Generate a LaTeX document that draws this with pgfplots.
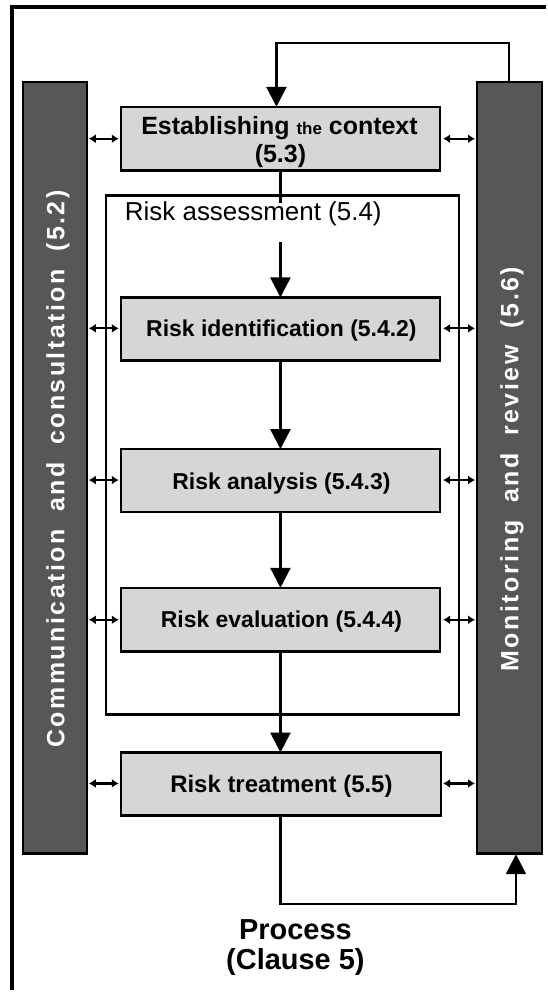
\documentclass[border=0pt]{standalone}
\usepackage{pgfplots}
\pgfplotsset{compat=1.18}
\usetikzlibrary{arrows.meta}
\usepackage{fontspec}
\setmainfont{Liberation Sans}
\newfontfamily\spaced[LetterSpace=10]{Liberation Sans}
\definecolor{barfill}{HTML}{575757}
\definecolor{boxfill}{HTML}{D6D6D6}
\begin{document}
\begin{tikzpicture}
\begin{axis}[width=547bp,height=992bp,scale only axis,
  xmin=0,xmax=547,ymin=0,ymax=992,y dir=reverse,hide axis,clip=false]
\path (rel axis cs:0,0) rectangle (rel axis cs:1,1);
% outer frame (left and top visible)
\draw[line width=4bp] (axis cs:12,992) -- (axis cs:12,7) -- (axis cs:547,7);
% side bars
\draw[line width=2.5bp,fill=barfill] (axis cs:23,82) rectangle (axis cs:87,855);
\draw[line width=2.5bp,fill=barfill] (axis cs:478,82) rectangle (axis cs:543,855);
% risk assessment frame
\draw[line width=2.5bp] (axis cs:106,196) rectangle (axis cs:460,716);
% process boxes
\draw[line width=2.5bp,fill=boxfill] (axis cs:121,107) rectangle (axis cs:441,171);
\draw[line width=2.5bp,fill=boxfill] (axis cs:121,298) rectangle (axis cs:441,361);
\draw[line width=2.5bp,fill=boxfill] (axis cs:121,450) rectangle (axis cs:441,513);
\draw[line width=2.5bp,fill=boxfill] (axis cs:121,589) rectangle (axis cs:441,653);
\draw[line width=2.5bp,fill=boxfill] (axis cs:121,754) rectangle (axis cs:442,817);
% flow arrows
\draw[line width=2.5bp,-{Triangle[width=20bp,length=20bp]}] (axis cs:510,82) -- (axis cs:510,43) -- (axis cs:277,43) -- (axis cs:277,107);
\draw[line width=2.5bp] (axis cs:281,171) -- (axis cs:281,203);
\draw[line width=2.5bp,-{Triangle[width=20bp,length=20bp]}] (axis cs:281,242) -- (axis cs:281,298);
\draw[line width=2.5bp,-{Triangle[width=20bp,length=20bp]}] (axis cs:281,361) -- (axis cs:281,450);
\draw[line width=2.5bp,-{Triangle[width=20bp,length=20bp]}] (axis cs:281,513) -- (axis cs:281,589);
\draw[line width=2.5bp,-{Triangle[width=20bp,length=20bp]}] (axis cs:281,653) -- (axis cs:281,754);
\draw[line width=2.5bp,-{Triangle[width=20bp,length=20bp]}] (axis cs:281,817) -- (axis cs:281,906) -- (axis cs:517,906) -- (axis cs:517,856);
% double arrows
\pgfplotsinvokeforeach{139,329,481,621,785}{
  \draw[line width=2.2bp,{Latex[length=7bp,width=9bp]}-{Latex[length=7bp,width=9bp]}] (axis cs:89,#1) -- (axis cs:119,#1);
  \draw[line width=2.2bp,{Latex[length=7bp,width=9bp]}-{Latex[length=7bp,width=9bp]}] (axis cs:444,#1) -- (axis cs:476,#1);
}
% texts
\node[anchor=base,font=\bfseries\fontsize{25bp}{25bp}\selectfont,inner sep=0] at (axis cs:280,135) {Establishing {\fontsize{17bp}{17bp}\selectfont the} context};
\node[anchor=base,font=\bfseries\fontsize{25bp}{25bp}\selectfont,inner sep=0] at (axis cs:281,163) {(5.3)};
\node[anchor=base west,font=\fontsize{26bp}{26bp}\selectfont,inner sep=0] at (axis cs:125,221) {Risk assessment (5.4)};
\node[anchor=base,font=\bfseries\fontsize{23bp}{23bp}\selectfont,inner sep=0] at (axis cs:282,337) {Risk identification (5.4.2)};
\node[anchor=base,font=\bfseries\fontsize{23bp}{23bp}\selectfont,inner sep=0] at (axis cs:282,490) {Risk analysis (5.4.3)};
\node[anchor=base,font=\bfseries\fontsize{23bp}{23bp}\selectfont,inner sep=0] at (axis cs:282,629) {Risk evaluation (5.4.4)};
\node[anchor=base,font=\bfseries\fontsize{24bp}{24bp}\selectfont,inner sep=0] at (axis cs:282,794) {Risk treatment (5.5)};
\node[anchor=base,font=\bfseries\fontsize{29bp}{29bp}\selectfont,inner sep=0] at (axis cs:296,941) {Process};
\node[anchor=base,font=\bfseries\fontsize{29bp}{29bp}\selectfont,inner sep=0] at (axis cs:296,971) {(Clause 5)};
\node[rotate=90,text=white,font=\spaced\bfseries\fontsize{25bp}{25bp}\selectfont,inner sep=0] at (axis cs:58,470) {Communication\hspace{0.7em}and\hspace{0.7em}consultation\hspace{0.7em}(5.2)};
\node[rotate=90,text=white,font=\spaced\bfseries\fontsize{25bp}{25bp}\selectfont,inner sep=0] at (axis cs:513,470) {Monitoring\hspace{0.7em}and\hspace{0.7em}review\hspace{0.7em}(5.6)};
\end{axis}
\end{tikzpicture}
\end{document}
